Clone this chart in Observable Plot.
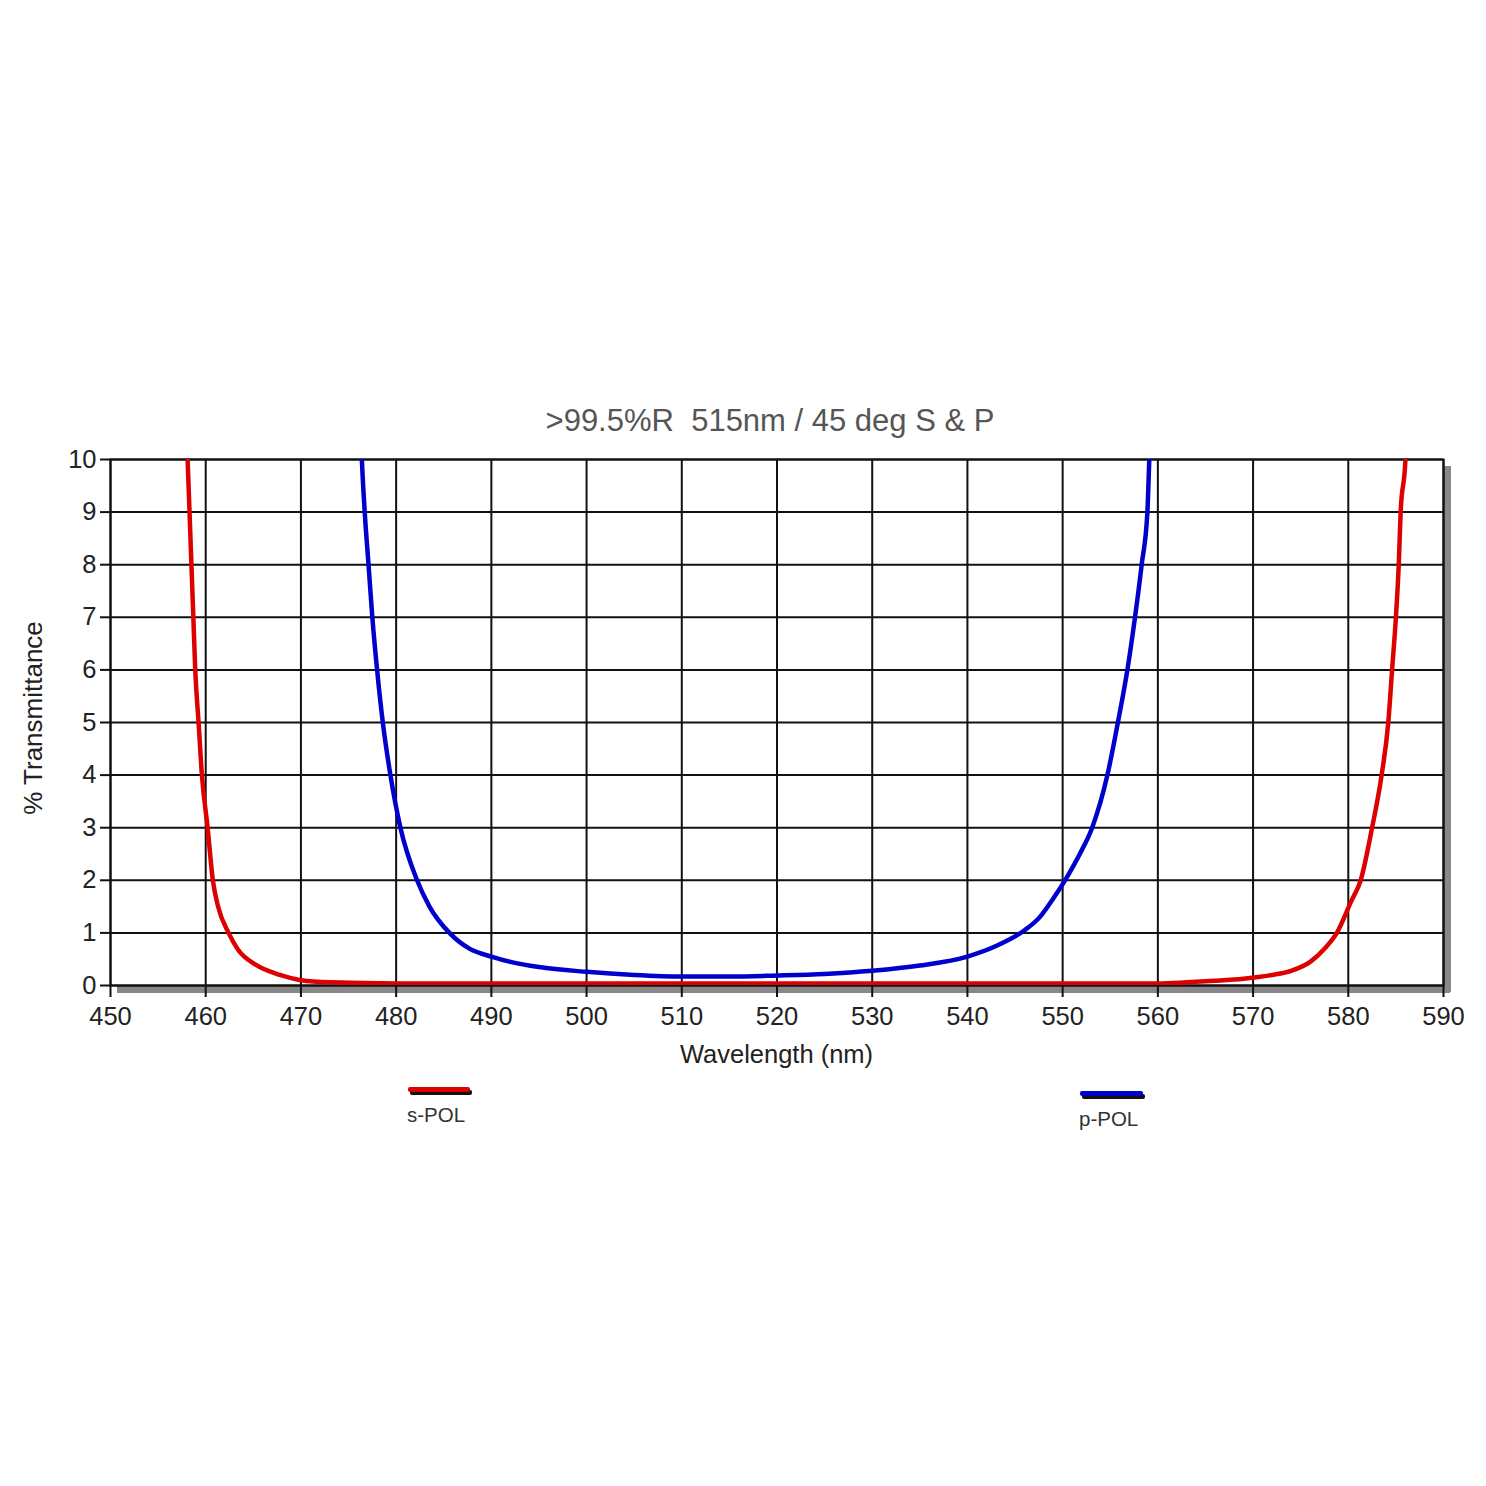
<!DOCTYPE html>
<html>
<head>
<meta charset="utf-8">
<script src="https://cdn.jsdelivr.net/npm/d3@7"></script>
<script src="https://cdn.jsdelivr.net/npm/@observablehq/plot@0.6"></script>
<style>
  html, body { margin: 0; padding: 0; background: #fff; }
  #wrap { position: relative; width: 1486px; height: 1486px; font-family: "Liberation Sans", Arial, sans-serif; }
  #wrap svg { position: absolute; left: 0; top: 0; }
  .lbl { position: absolute; white-space: pre; }
  #title { left: 0; width: 1540px; top: 403px; text-align: center; font-size: 31px; color: #555; }
  #xlabel { left: 110px; width: 1333px; top: 1040px; text-align: center; font-size: 25.5px; color: #222; }
  #ylabel { left: 33px; top: 718px; font-size: 26px; color: #222; transform: translate(-50%, -50%) rotate(-90deg); }
  .leg { position: absolute; font-size: 20.5px; color: #333; }
  .legline { position: absolute; height: 5px; border-radius: 2px; box-shadow: 2px 3px 0 #111; }
</style>
</head>
<body>
<div id="wrap"></div>
<script>
// s-POL (red)
const sWave = [457.9, 458.1, 458.3, 458.5, 458.7, 458.9, 459.25, 459.6, 460.2, 460.75, 461.3, 462.4, 463.4, 465.2, 467.8, 470, 473, 480, 500, 520, 540, 560, 563, 566, 569, 572, 574, 576, 577.5, 578.8, 580.3, 581.3, 582.5, 583.5, 584.2, 584.6, 585.0, 585.3, 585.5, 586.0, 586.2];
const sT    = [11, 10, 9, 8, 7, 6, 5, 4, 3, 2, 1.5, 1.0, 0.68, 0.4, 0.2, 0.1, 0.06, 0.04, 0.04, 0.04, 0.04, 0.04, 0.06, 0.09, 0.13, 0.2, 0.28, 0.45, 0.7, 1.0, 1.6, 2, 3, 4, 5, 6, 7, 8, 9, 10, 11];
// p-POL (blue)
const pWave = [476.2, 476.4, 476.7, 477.1, 477.5, 478.0, 478.6, 479.4, 480.45, 482.2, 483.5, 485.6, 487.7, 490, 492, 495, 500, 505, 510, 515, 520, 525, 530, 535, 540, 543, 546, 547.6, 549, 550.25, 551.8, 553.1, 554.7, 555.8, 556.8, 557.6, 558.3, 558.9, 559.1, 559.3];
const pT    = [11, 10, 9, 8, 7, 6, 5, 4, 3, 2, 1.5, 1.0, 0.7, 0.55, 0.45, 0.35, 0.26, 0.2, 0.17, 0.17, 0.19, 0.22, 0.28, 0.38, 0.55, 0.75, 1.05, 1.3, 1.65, 2, 2.5, 3, 4, 5, 6, 7, 8, 9, 10, 11];

const xTicks = d3.range(450, 591, 10);
const yTicks = d3.range(0, 11, 1);
const titleText = ">99.5%R  515nm / 45 deg S & P";
const xLabel = "Wavelength (nm)";
const yLabel = "% Transmittance";
const seriesNames = ["s-POL", "p-POL"];
const seriesColors = ["#dd0000", "#0000cc"];

const sData = sWave.map((w, i) => ({w, t: sT[i]}));
const pData = pWave.map((w, i) => ({w, t: pT[i]}));

const chart = Plot.plot({
  width: 1486,
  height: 1486,
  marginLeft: 110,
  marginRight: 43,
  marginTop: 459,
  marginBottom: 501,
  style: {fontFamily: "Liberation Sans, Arial, sans-serif", fontSize: "25px", color: "#222", background: "transparent"},
  x: {domain: [450, 590], label: null},
  y: {domain: [0, 10], label: null},
  marks: [
    // drop shadow
    Plot.ruleY([0], {x1: 450, x2: 590, dx: 7, dy: 4, stroke: "#888", strokeWidth: 7}),
    Plot.ruleX([590], {y1: 0, y2: 10, dx: 4, dy: 7, stroke: "#888", strokeWidth: 7}),
    Plot.gridX(xTicks, {stroke: "#111", strokeOpacity: 1, strokeWidth: 2}),
    Plot.gridY(yTicks, {stroke: "#111", strokeOpacity: 1, strokeWidth: 2}),
    Plot.frame({stroke: "#111", strokeWidth: 2}),
    Plot.axisX(xTicks, {tickSize: 12, tickPadding: 9, stroke: "#111", strokeWidth: 2, fontSize: 25.5, label: null, tickFormat: d => String(d)}),
    Plot.axisY(yTicks, {tickSize: 10, tickPadding: 4, stroke: "#111", strokeWidth: 2, fontSize: 25.5, label: null, tickFormat: d => String(d)}),
    Plot.line(sData, {x: "w", y: "t", stroke: seriesColors[0], strokeWidth: 4.5, clip: true, curve: "monotone-x"}),
    Plot.line(pData, {x: "w", y: "t", stroke: seriesColors[1], strokeWidth: 4.5, clip: true, curve: "monotone-x"})
  ]
});

const wrap = document.getElementById("wrap");
wrap.appendChild(chart);

function addDiv(cls, id, text, style) {
  const d = document.createElement("div");
  d.className = cls;
  if (id) d.id = id;
  if (text !== null) d.textContent = text;
  if (style) Object.assign(d.style, style);
  wrap.appendChild(d);
  return d;
}
addDiv("lbl", "title", titleText);
addDiv("lbl", "xlabel", xLabel);
addDiv("lbl", "ylabel", yLabel);
// legend
addDiv("legline", null, null, {left: "408px", top: "1087px", width: "62px", background: seriesColors[0]});
addDiv("leg", null, seriesNames[0], {left: "407px", top: "1103px"});
addDiv("legline", null, null, {left: "1080px", top: "1091px", width: "63px", background: seriesColors[1]});
addDiv("leg", null, seriesNames[1], {left: "1079px", top: "1107px"});
</script>
</body>
</html>
